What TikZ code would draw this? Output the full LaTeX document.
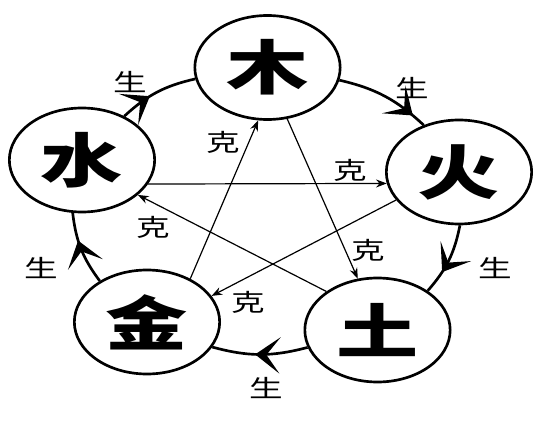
\documentclass[tikz,border=0pt]{standalone}
\usepackage{fontspec}
\usepackage{graphicx}
\usetikzlibrary{shapes.geometric,arrows.meta,decorations.markings}
\newfontfamily\cjk{Noto Sans CJK SC}[BoldFont={Noto Sans CJK SC Black}]
\newcommand\wideS[1]{\scalebox{1.4}[1]{#1}}
\tikzset{shengtip/.tip={Stealth[length=11pt,width=16pt,inset=6pt]}}
\begin{document}
\begin{tikzpicture}[x=0.75pt,y=0.75pt,
  elem/.style={draw,ellipse,line width=2pt,minimum width=109pt,minimum height=78pt,inner sep=0pt,
    font=\cjk\bfseries\fontsize{44}{44}\selectfont},
  lab/.style={inner sep=0pt,font=\cjk\fontsize{18}{18}\selectfont},
  ke/.style={line width=0.9pt,-{Stealth[length=8pt,width=6pt]}},
  sheng/.style={line width=2pt,bend left=15,postaction={decorate},
    decoration={markings,mark=at position #1 with {\arrow[scale=1.7]{shengtip}}}},
]
\useasboundingbox (0,0) rectangle (549,-431);
% elements
\node[elem] (mu)   at (267.5,-67.5) {\wideS{木}};
\node[elem] (huo)  at (459,-172)    {\wideS{火}};
\node[elem] (tu)   at (377.5,-330)  {\wideS{土}};
\node[elem] (jin)  at (147,-322)    {\wideS{金}};
\node[elem] (shui) at (82,-160)     {\wideS{水}};
% sheng cycle
\draw[sheng=0.4] (shui.46) to (mu.189.5);
\draw[sheng=0.85] (mu.350.5) to (huo.127.5);
\draw[sheng=0.68] (huo.271) to (tu.38.4);
\draw[sheng=0.55] (tu.194.3) to (jin.339.8);
\draw[sheng=0.62]  (jin.139.4) to (shui.260.4);
% ke star
\draw[ke] (mu.291) -- (tu.111.1);
\draw[ke] (tu.143.7) -- (shui.328.8);
\draw[ke] (shui.340.3) -- (huo.189.7);
\draw[ke] (huo.204.4) -- (jin.22.2);
\draw[ke] (jin.45.7) -- (mu.260);
% labels
\node[lab] (s1) at (130,-82)  {\wideS{生}};
\node[lab] (s2) at (412,-88)  {\wideS{生}};
\node[lab] (s3) at (495,-268) {\wideS{生}};
\node[lab] (s4) at (266,-388) {\wideS{生}};
\node[lab] (s5) at (41,-268)  {\wideS{生}};
\node[lab] (k1) at (223,-142) {\wideS{克}};
\node[lab] (k2) at (350,-170) {\wideS{克}};
\node[lab] (k3) at (153,-227) {\wideS{克}};
\node[lab] (k4) at (248,-302) {\wideS{克}};
\node[lab] (k5) at (368,-250) {\wideS{克}};
\end{tikzpicture}
\end{document}
